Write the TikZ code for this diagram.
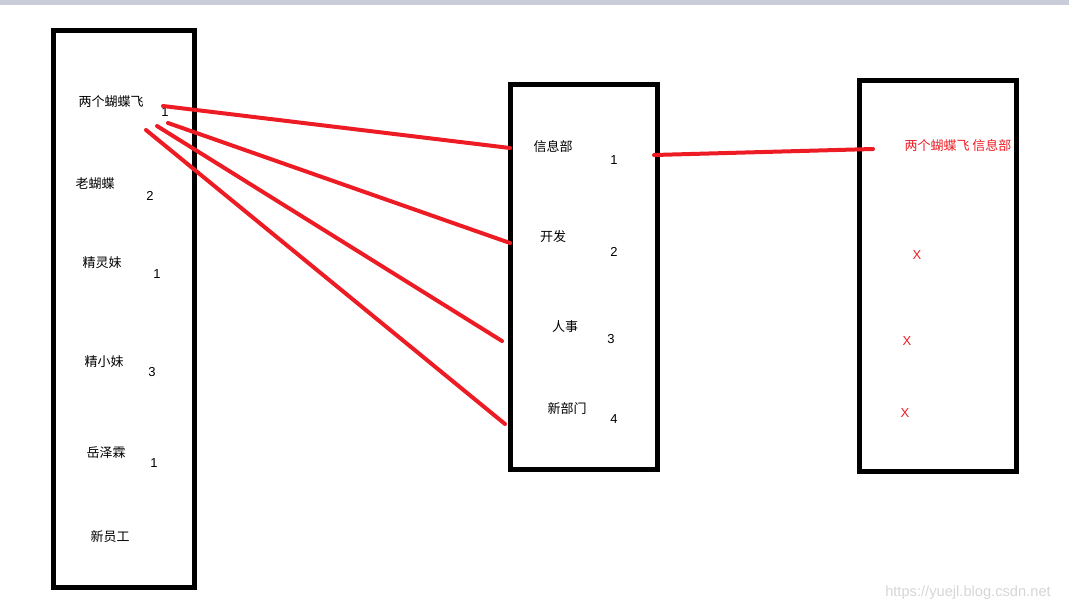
\documentclass[tikz,border=0pt]{standalone}
\usepackage{fontspec}
\setmainfont{Liberation Sans}
\newfontfamily\cjk{Noto Sans CJK SC}
\definecolor{paintred}{HTML}{ED1C24}
\definecolor{barblue}{HTML}{C9CDD9}
\definecolor{wmgray}{HTML}{D6D6D6}

\begin{document}
\begin{tikzpicture}[x=0.75pt,y=-0.75pt,
                    frame/.style={draw=black,line width=3.75pt,
                    rectangle,inner sep=0pt},
                    lbl/.style={inner sep=0pt,yshift=-0.75pt,font=\cjk\fontsize{9.75}{12}\selectfont},
                    num/.style={inner sep=0pt,yshift=-0.5pt,font=\fontsize{9.75}{12}\selectfont},
                    link/.style={draw=paintred,line width=3pt,line cap=round}]
    \useasboundingbox (0,0) rectangle (1069,611);
    \fill[barblue] (0,0) rectangle (1069,5);

    % the three boxes
    \node[frame,minimum width=106.1pt,minimum height=417.4pt](emp) at (124.25,308.75) {};
    \node[frame,minimum width=110.25pt,minimum height=288.75pt](dept) at (583.5,276.5) {};
    \node[frame,minimum width=117.75pt,minimum height=293.6pt](res) at (938,276.25) {};

    % employees
    \node[lbl](e1) at (111,101) {两个蝴蝶飞};
    \node[lbl](e2) at (95,183) {老蝴蝶};
    \node[lbl](e3) at (102,262) {精灵妹};
    \node[lbl](e4) at (104,361) {精小妹};
    \node[lbl](e5) at (106,452) {岳泽霖};
    \node[lbl](e6) at (110,536) {新员工};
    \node[num](n1) at (165,111) {1};
    \node[num](n2) at (150,195) {2};
    \node[num](n3) at (157,273) {1};
    \node[num](n4) at (152,371) {3};
    \node[num](n5) at (154,462) {1};

    % departments
    \node[lbl](d1) at (553,146) {信息部};
    \node[lbl](d2) at (553,236) {开发};
    \node[lbl](d3) at (565,326) {人事};
    \node[lbl](d4) at (567,408) {新部门};
    \node[num](m1) at (614,159) {1};
    \node[num](m2) at (614,251) {2};
    \node[num](m3) at (611,338) {3};
    \node[num](m4) at (614,418) {4};

    % result
    \node[lbl,text=paintred](r1) at (958,145) {两个蝴蝶飞 信息部};
    \node[num,text=paintred](x1) at (917,254) {X};
    \node[num,text=paintred](x2) at (907,340) {X};
    \node[num,text=paintred](x3) at (905,412) {X};

    % line ends
    \coordinate (fly1) at (163,106);
    \coordinate (fly2) at (168,123);
    \coordinate (fly3) at (157,126);
    \coordinate (fly4) at (146,130);
    \coordinate (in1) at (510,148);
    \coordinate (in2) at (510,243);
    \coordinate (in3) at (502,341);
    \coordinate (in4) at (505,424);
    \coordinate (out1) at (654,155);
    \coordinate (res1) at (873,149);

    \draw[link] (fly1) -- (in1);
    \draw[link] (fly2) -- (in2);
    \draw[link] (fly3) -- (in3);
    \draw[link] (fly4) -- (in4);
    \draw[link] (out1) -- (res1);

    \node[inner sep=0pt,text=wmgray,font=\fontsize{11}{12}\selectfont](wm) at (968,593) {https://yuejl.blog.csdn.net};
\end{tikzpicture}
\end{document}
